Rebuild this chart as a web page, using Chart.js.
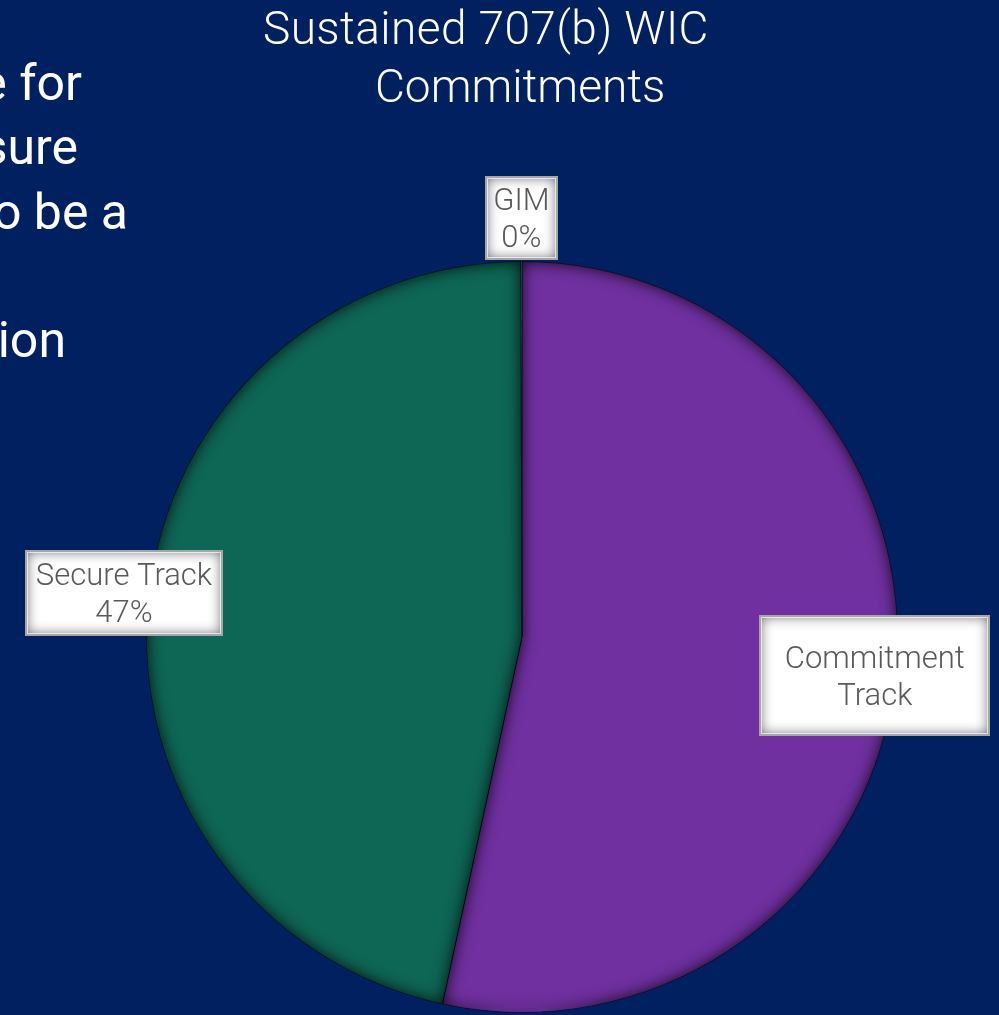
<!DOCTYPE html>
<html>
<head>
<meta charset="utf-8">
<script src="https://cdn.jsdelivr.net/npm/chart.js@4"></script>
<style>
  html, body { margin: 0; padding: 0; background: #002060; overflow: hidden; }
  #wrap { position: relative; width: 999px; height: 1015px; }
  #chart { position: absolute; left: 0; top: 0; }
  .txt { position: absolute; color: #ffffff; font-family: Roboto, "Noto Sans", sans-serif; white-space: nowrap; }
  .title { font-size: 46px; font-weight: 300; }
  .side { font-size: 50px; font-weight: 400; text-align: right; }
</style>
</head>
<body>
<div id="wrap">
  <canvas id="chart" width="999" height="1015"></canvas>
  <div class="txt title" style="left:263px; top:1px; letter-spacing:0.4px;">Sustained 707(b) WIC</div>
  <div class="txt title" style="left:375px; top:59px;">Commitments</div>
  <div class="txt side" style="right:917px; top:54px;">e for</div>
  <div class="txt side" style="right:921px; top:118px;">sure</div>
  <div class="txt side" style="right:871px; top:183px;">o be a</div>
  <div class="txt side" style="right:933px; top:311px;">ion</div>
</div>
<script>
// chart values
const categories = ["Commitment Track", "Secure Track", "GIM"];
const shares = [53.4, 46.55, 0.05];
const sliceColors = ["#7030a0", "#0e6655", "#0e6655"];
const labelLines = [["Commitment", "Track"], ["Secure Track", "47%"], ["GIM", "0%"]];

// where each data label box sits (radius factor from pie centre, nudge) and its size
const labelBoxes = [
    { k: 0.945, dy: 1, w: 231, h: 121 },
    { k: 1.066, dy: -2, w: 198, h: 86 },
    { k: 1.116, dy: 0, w: 73, h: 84 }
];

// soft inner shadow on each slice, like the office chart bevel
const sliceShadow = {
    id: 'sliceShadow',
    afterDatasetsDraw(chart) {
        const ctx = chart.ctx;
        const arcs = chart.getDatasetMeta(0).data;
        arcs.forEach((arc) => {
            const { x, y, startAngle, endAngle, outerRadius } = arc.getProps(['x', 'y', 'startAngle', 'endAngle', 'outerRadius'], true);
            if (endAngle - startAngle < 0.02) return;
            ctx.save();
            ctx.beginPath();
            ctx.moveTo(x, y);
            ctx.arc(x, y, outerRadius, startAngle, endAngle);
            ctx.closePath();
            ctx.clip();
            ctx.beginPath();
            ctx.rect(0, 0, chart.width, chart.height);
            ctx.moveTo(x, y);
            ctx.arc(x, y, outerRadius, startAngle, endAngle);
            ctx.closePath();
            ctx.shadowColor = 'rgba(0,0,0,0.85)';
            ctx.shadowBlur = 16;
            ctx.fillStyle = '#000';
            ctx.fill('evenodd');
            ctx.restore();
        });
    }
};

const boxLabels = {
    id: 'boxLabels',
    afterDraw(chart) {
        const ctx = chart.ctx;
        const arcs = chart.getDatasetMeta(0).data;
        arcs.forEach((arc, i) => {
            const { x, y, startAngle, endAngle, outerRadius } = arc.getProps(['x', 'y', 'startAngle', 'endAngle', 'outerRadius'], true);
            const mid = (startAngle + endAngle) / 2;
            const box = labelBoxes[i];
            const cx = x + Math.cos(mid) * outerRadius * box.k;
            const cy = y + Math.sin(mid) * outerRadius * box.k + box.dy;
            const bx = Math.round(cx - box.w / 2), by = Math.round(cy - box.h / 2);

            ctx.save();
            ctx.fillStyle = '#ffffff';
            ctx.fillRect(bx, by, box.w, box.h);
            // inner vignette
            ctx.beginPath();
            ctx.rect(bx, by, box.w, box.h);
            ctx.clip();
            ctx.beginPath();
            ctx.rect(bx - 40, by - 40, box.w + 80, box.h + 80);
            ctx.rect(bx, by, box.w, box.h);
            ctx.shadowColor = 'rgba(0,0,0,0.75)';
            ctx.shadowBlur = 14;
            ctx.fillStyle = '#000';
            ctx.fill('evenodd');
            ctx.restore();

            ctx.save();
            ctx.strokeStyle = '#a6a6a6';
            ctx.lineWidth = 2;
            ctx.strokeRect(bx + 1, by + 1, box.w - 2, box.h - 2);
            ctx.strokeStyle = 'rgba(255,255,255,0.7)';
            ctx.lineWidth = 1;
            ctx.strokeRect(bx + 2.5, by + 2.5, box.w - 5, box.h - 5);
            ctx.fillStyle = '#595959';
            ctx.font = '300 31px Roboto, "Noto Sans", sans-serif';
            ctx.textAlign = 'center';
            ctx.textBaseline = 'middle';
            const lines = labelLines[i];
            const lh = 37;
            lines.forEach((t, j) => {
                ctx.fillText(t, cx, cy + 3 + (j - (lines.length - 1) / 2) * lh);
            });
            ctx.restore();
        });
    }
};

new Chart(document.getElementById('chart'), {
    type: 'pie',
    data: {
        labels: categories,
        datasets: [{
            data: shares,
            backgroundColor: sliceColors,
            borderColor: 'rgba(0,20,30,0.6)',
            borderWidth: 1
        }]
    },
    options: {
        responsive: false,
        animation: false,
        devicePixelRatio: 1,
        layout: { padding: { left: 146, right: 101, top: 261, bottom: 2 } },
        plugins: {
            legend: { display: false },
            tooltip: { enabled: false },
            title: { display: false }
        }
    },
    plugins: [sliceShadow, boxLabels]
});
</script>
</body>
</html>
